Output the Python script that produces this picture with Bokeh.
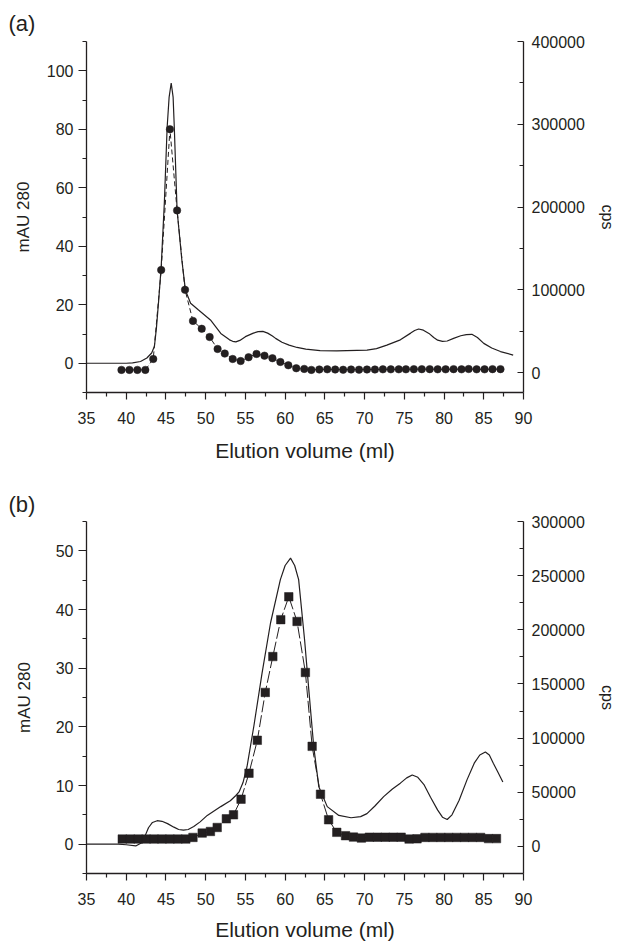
from bokeh.plotting import figure
from bokeh.models import Range1d, LinearAxis, FixedTicker, BasicTickFormatter
from bokeh.layouts import column
from bokeh.embed import file_html
from bokeh.resources import INLINE

# ---------------- data ----------------
x_ticks = [35, 40, 45, 50, 55, 60, 65, 70, 75, 80, 85, 90]
x_minor = [37.5, 42.5, 47.5, 52.5, 57.5, 62.5, 67.5, 72.5, 77.5, 82.5, 87.5]

# panel (a): absorbance (left axis)
a_mau_ml = [35.0, 40.0, 40.8, 41.8, 42.6, 43.2, 43.55, 43.8, 44.1, 44.4, 44.8, 45.15,
            45.4, 45.66, 45.9, 46.05, 46.4, 47.0, 47.45, 48.1, 49.1, 50.6, 51.9, 53.0,
            53.4, 53.8, 54.3, 55.0, 56.0, 56.6, 57.2, 57.8, 58.4, 58.8, 59.6, 60.5,
            61.5, 62.6, 64.4, 66.5, 70.3, 71.5, 72.8, 74.5, 75.8, 76.3, 76.8, 77.4,
            78.1, 78.7, 79.2, 79.8, 80.4, 81.2, 82.1, 82.8, 83.5, 84.2, 85.0, 86.0,
            87.1, 88.7]
a_mau = [0, 0, 0.1, 0.6, 1.8, 3.5, 5.8, 12, 22, 33, 55, 80.7,
         91, 95.8, 91, 80.7, 52.3, 35.3, 25, 20.5, 18.2, 14.8, 10.2, 8.0,
         7.5, 7.3, 7.8, 9.1, 10.3, 10.8, 10.9, 10.3, 9.3, 8.5, 7.2, 6.2,
         5.4, 4.8, 4.3, 4.2, 4.5, 5.0, 6.2, 8.0, 10.3, 11.2, 11.7, 11.3,
         10.2, 8.8, 7.9, 7.5, 7.6, 8.5, 9.4, 9.8, 9.9, 8.8, 6.8, 5.2,
         4.0, 2.8]

# panel (a): radioactivity (right axis)
a_cps_ml = [39.4, 40.4, 41.4, 42.4, 43.4, 44.4, 45.5, 46.4, 47.4, 48.4, 49.5, 50.5,
            51.5, 52.4, 53.4, 54.4, 55.4, 56.4, 57.4, 58.4, 59.4, 60.4, 61.4, 62.4,
            63.3, 64.3, 65.3, 66.3, 67.3, 68.3, 69.3, 70.3, 71.3, 72.3, 73.3, 74.3,
            75.2, 76.2, 77.2, 78.2, 79.2, 80.2, 81.2, 82.2, 83.1, 84.1, 85.1, 86.1, 87.1]
a_cps = [3300, 3300, 3300, 3300, 16500, 124000, 294000, 196000, 100000, 62500, 53000, 43000,
         28600, 23000, 16500, 14000, 18600, 22600, 20500, 17400, 12900, 8900, 5300, 4500,
         3300, 3800, 4000, 3800, 3500, 3800, 3600, 3800, 3800, 4000, 4000, 4000,
         4000, 4200, 4200, 4200, 4000, 4000, 4200, 4000, 4400, 4000, 4000, 4200, 4200]

# panel (b): absorbance (left axis)
b_mau_ml = [35.0, 39.0, 40.0, 41.2, 42.0, 42.4, 42.8, 43.3, 43.9, 44.5, 45.2, 46.0,
            46.6, 47.2, 47.8, 48.5, 49.3, 50.2, 51.9, 53.1, 53.8, 54.2, 54.7, 55.2,
            56.06, 57.1, 58.16, 59.4, 60.0, 60.68, 61.2, 61.7, 62.45, 62.98, 63.6, 64.24,
            65.3, 66.76, 68.3, 69.5, 70.3, 71.3, 72.4, 73.5, 74.5, 75.3, 76.0, 76.7,
            77.5, 78.3, 79.2, 79.8, 80.4, 81.0, 81.9, 82.9, 83.8, 84.5, 85.2, 85.7,
            86.2, 86.8, 87.4]
b_mau = [0, 0, -0.1, -0.3, 0.3, 1.5, 2.8, 3.7, 4.0, 3.9, 3.5, 2.9,
         2.5, 2.4, 2.5, 3.0, 3.8, 4.9, 6.4, 7.4, 8.3, 8.9, 10.5, 13.2,
         20.1, 29.2, 37.7, 45.1, 47.5, 48.75, 47.5, 45.1, 34.8, 26.3, 16.6, 9.8,
         6.4, 4.9, 4.5, 4.7, 5.2, 6.5, 8.1, 9.4, 10.4, 11.3, 11.8, 11.4,
         10.1, 8.0, 5.8, 4.6, 4.2, 5.0, 7.5, 11.0, 13.8, 15.2, 15.7, 15.2,
         13.8, 12.2, 10.6]

# panel (b): radioactivity (right axis)
b_cps_ml = [39.5, 40.5, 41.5, 42.5, 43.5, 44.5, 45.5, 46.5, 47.5, 48.4, 49.56, 50.6,
            51.45, 52.6, 53.5, 54.45, 55.45, 56.5, 57.5, 58.45, 59.45, 60.46, 61.5, 62.55,
            63.4, 64.45, 65.47, 66.5, 67.6, 68.6, 69.6, 70.6, 71.6, 72.6, 73.6, 74.6,
            75.6, 76.6, 77.6, 78.6, 79.6, 80.6, 81.6, 82.6, 83.6, 84.6, 85.6, 86.6]
b_cps = [6800, 6800, 6800, 6800, 6800, 6800, 6800, 6800, 6800, 8300, 12300, 13800,
         17500, 25500, 29200, 43600, 67600, 98000, 142200, 175300, 209400, 230500, 207700, 160600,
         92400, 48200, 24600, 13000, 9900, 8600, 7700, 8500, 8500, 8500, 8500, 8500,
         6800, 7000, 8300, 8300, 8300, 8300, 8300, 8300, 8300, 8300, 7200, 7200]

a_left_ticks = [0, 20, 40, 60, 80, 100]
a_left_minor = [-10, 10, 30, 50, 70, 90, 110]
a_right_ticks = [0, 100000, 200000, 300000, 400000]
a_right_minor = [50000, 150000, 250000, 350000]
b_left_ticks = [0, 10, 20, 30, 40, 50]
b_left_minor = [-5, 5, 15, 25, 35, 45, 55]
b_right_ticks = [0, 50000, 100000, 150000, 200000, 250000, 300000]
b_right_minor = [25000, 75000, 125000, 175000, 225000, 275000]

INK = "#231f20"
FONT = "Liberation Sans"
TICK_FS = "16px"


def common_axis(ax):
    ax.axis_line_color = INK
    ax.axis_line_width = 1.3
    ax.major_tick_line_color = INK
    ax.minor_tick_line_color = INK
    ax.major_tick_line_width = 1.2
    ax.minor_tick_line_width = 1.2
    ax.major_label_text_font = FONT
    ax.major_label_text_font_size = TICK_FS
    ax.major_label_text_color = INK
    ax.axis_label_text_font = FONT
    ax.axis_label_text_font_style = "normal"
    ax.axis_label_text_color = INK


def make_panel(tag, height, top_border, bottom_border, left_rng, right_rng,
               lt, lm, rt, rm, mau_x, mau_y, cps_x, cps_y, marker, msize, dash,
               left_standoff, xtitle_standoff, tag_standoff):
    p = figure(width=618, height=height, output_backend="svg", toolbar_location=None,
               x_range=Range1d(35, 90), y_range=Range1d(*left_rng),
               min_border_left=86, min_border_right=95, min_border_top=top_border,
               min_border_bottom=bottom_border)
    p.outline_line_color = None
    p.xgrid.grid_line_color = None
    p.ygrid.grid_line_color = None
    p.background_fill_color = "white"
    p.border_fill_color = "white"

    p.title.text = tag
    p.title.align = "left"
    p.title.offset = -78
    p.title.standoff = tag_standoff
    p.title.text_font = FONT
    p.title.text_font_size = "22px"
    p.title.text_font_style = "normal"
    p.title.text_color = INK

    xa = p.xaxis[0]
    common_axis(xa)
    xa.ticker = FixedTicker(ticks=x_ticks, minor_ticks=x_minor)
    xa.major_tick_out = 7
    xa.major_tick_in = 0
    xa.minor_tick_out = 4
    xa.minor_tick_in = 0
    xa.major_label_standoff = 12
    xa.axis_label = "Elution volume (ml)"
    xa.axis_label_text_font_size = "21px"
    xa.axis_label_standoff = xtitle_standoff

    ya = p.yaxis[0]
    common_axis(ya)
    ya.ticker = FixedTicker(ticks=lt, minor_ticks=lm)
    ya.major_tick_out = 8
    ya.major_tick_in = 0
    ya.minor_tick_out = 4
    ya.minor_tick_in = 0
    ya.major_label_standoff = 5
    ya.axis_label = "mAU 280"
    ya.axis_label_text_font_size = "17px"
    ya.axis_label_standoff = left_standoff

    p.extra_y_ranges = {"cps": Range1d(*right_rng)}
    ra = LinearAxis(y_range_name="cps",
                    ticker=FixedTicker(ticks=rt, minor_ticks=rm),
                    formatter=BasicTickFormatter(use_scientific=False))
    common_axis(ra)
    ra.major_tick_in = 6
    ra.major_tick_out = 0
    ra.minor_tick_in = 4
    ra.minor_tick_out = 0
    ra.major_label_standoff = 8
    ra.axis_label = "cps"
    ra.axis_label_text_font_size = "16px"
    ra.axis_label_standoff = 11
    p.add_layout(ra, "right")

    p.line(mau_x, mau_y, line_color=INK, line_width=1.2)
    p.line(cps_x, cps_y, y_range_name="cps", line_color=INK, line_width=1.0,
           line_dash=dash)
    p.scatter(cps_x, cps_y, y_range_name="cps", marker=marker, size=msize,
              fill_color=INK, line_color=INK, line_width=0.5)
    return p


pa = make_panel("(a)", 485, 41, 93, (-10, 110), (-24000, 400000),
                a_left_ticks, a_left_minor, a_right_ticks, a_right_minor,
                a_mau_ml, a_mau, a_cps_ml, a_cps, "circle", 7.5, "5 3", 11, 12, 12)
pb = make_panel("(b)", 458, 36, 70, (-5, 55), (-25000, 300000),
                b_left_ticks, b_left_minor, b_right_ticks, b_right_minor,
                b_mau_ml, b_mau, b_cps_ml, b_cps, "square", 8.5, "12 3", 19, 10, 9)

layout = column(pa, pb, spacing=0)
open("out.html", "w").write(file_html(layout, INLINE))
